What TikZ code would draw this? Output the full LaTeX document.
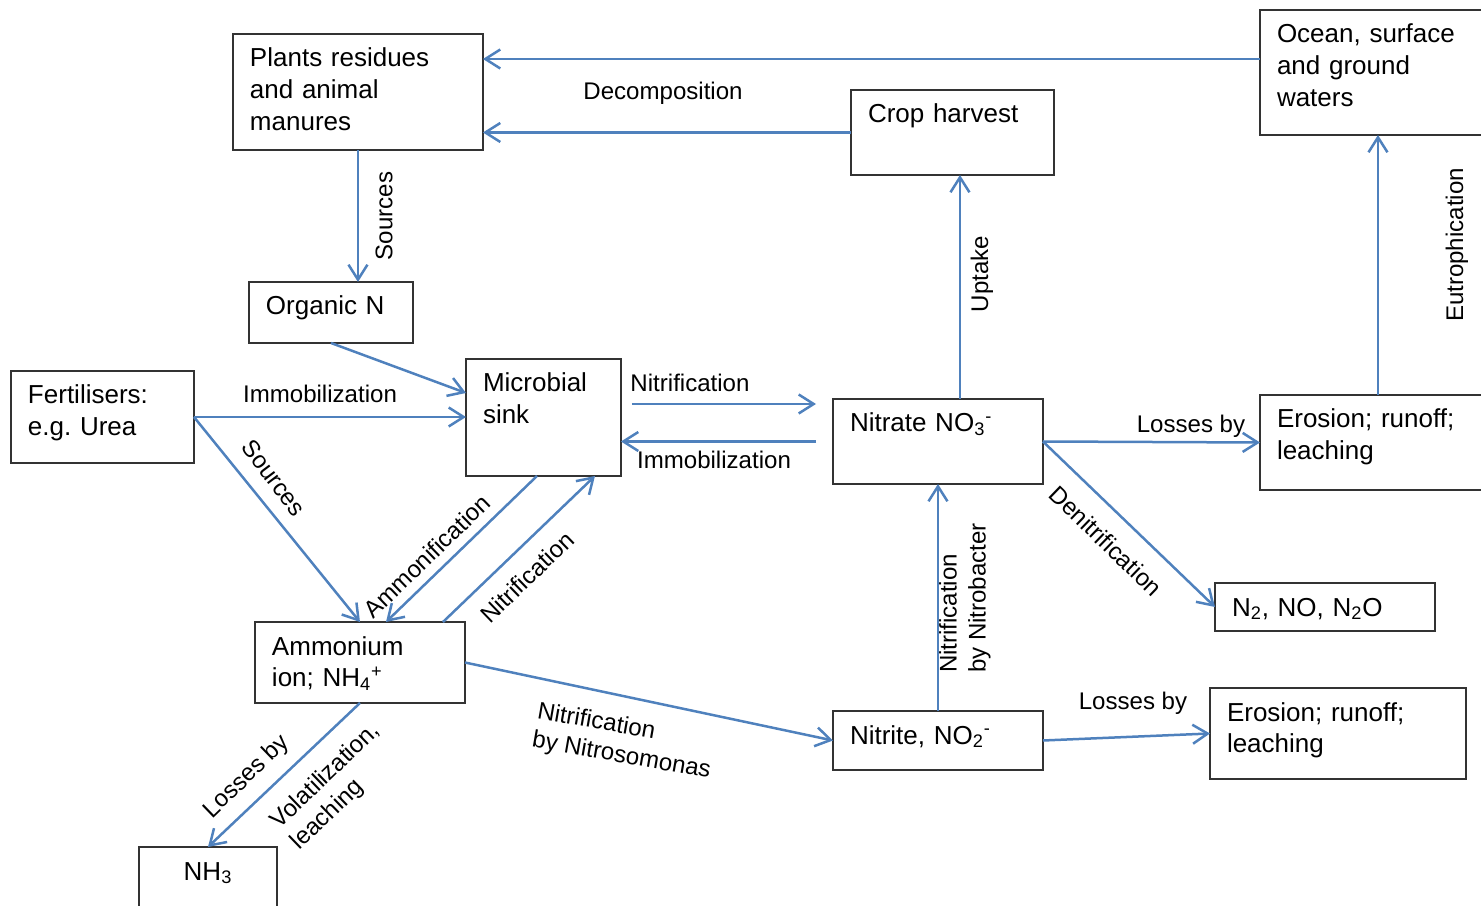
\documentclass[tikz,border=0pt]{standalone}
\usepackage{fontspec}
\setmainfont{Liberation Sans}
\usetikzlibrary{arrows.meta,calc}
\definecolor{flowblue}{RGB}{79,129,189}

\begin{document}
\begin{tikzpicture}[x=0.02cm, y=-0.02cm,
  nbox/.style={draw=black!80, line width=0.035cm, anchor=north west, align=left,
    font=\fontsize{14.8pt}{18.2pt}\selectfont, inner xsep=0.34cm, inner ysep=0.2cm,
    outer sep=0pt, text height=0.46cm},
  lbl/.style={font=\fontsize{13.7pt}{16.5pt}\selectfont, inner sep=0pt, align=left},
  flowarrow/.style={draw=flowblue, line width=0.05cm, -{Straight Barb[length=0.3cm, width=0.38cm]}}]
\useasboundingbox (0,0) rectangle (1481,906);

% pools
\node[nbox, text width=4.32cm, text depth=1.46cm] (plants) at (233,34) {Plants residues\\and animal\\manures};
\node[nbox, text width=3.38cm, text depth=0.84cm] (crop) at (851,90) {Crop harvest};
\node[nbox, text width=4.04cm, text depth=1.64cm] (ocean) at (1260,10) {Ocean, surface\\and ground\\waters};
\node[nbox, text width=2.6cm, text depth=0.36cm] (organic) at (249,282) {Organic N};
\node[nbox, text width=2.98cm, text depth=0.98cm] (fert) at (11,371) {Fertilisers:\\e.g.\ Urea};
\node[nbox, text width=2.42cm, text depth=1.48cm] (microbial) at (466,359) {Microbial\\sink};
\node[nbox, text width=3.52cm, text depth=0.84cm] (nitrate) at (833,399) {Nitrate NO\textsubscript{3}\textsuperscript{-}};
\node[nbox, text width=4.04cm, text depth=1.04cm] (erosionA) at (1260,395) {Erosion; runoff;\\leaching};
\node[nbox, text width=3.72cm, text depth=0.1cm] (gases) at (1215,583) {N\textsubscript{2}, NO, N\textsubscript{2}O};
\node[nbox, text width=3.52cm, text depth=0.76cm] (ammonium) at (255,622) {Ammonium\\ion; NH\textsubscript{4}\textsuperscript{+}};
\node[nbox, text width=2.08cm, text depth=0.54cm, align=center] (nh3) at (139,847) {NH\textsubscript{3}};
\node[nbox, text width=3.52cm, text depth=0.32cm] (nitrite) at (833,711) {Nitrite, NO\textsubscript{2}\textsuperscript{-}};
\node[nbox, text width=4.44cm, text depth=0.96cm] (erosionB) at (1210,688) {Erosion; runoff;\\leaching};

% flows
\draw[flowarrow] ([yshift=0.27cm]ocean.west) -- ([yshift=0.27cm]ocean.west -| plants.east);
\draw[flowarrow] (crop.west) -- (crop.west -| plants.east);
\draw[flowarrow] (plants.south) -- (plants.south |- organic.north);
\draw[flowarrow] (organic.south) -- ([yshift=0.49cm]microbial.west);
\draw[flowarrow] (fert.east) -- (fert.east -| microbial.west);
\draw[flowarrow] (fert.east) -- (ammonium.north);
\draw[flowarrow] ([xshift=-0.13cm]microbial.south) -- ([xshift=0.52cm]ammonium.north);
\draw[flowarrow] ([xshift=1.66cm]ammonium.north) -- ([xshift=1.03cm]microbial.south);
\draw[flowarrow, shorten <=0.22cm, shorten >=0.34cm] ([yshift=0.27cm]microbial.east) -- ([yshift=0.27cm]microbial.east -| nitrate.west);
\draw[flowarrow, shorten <=0.34cm] (nitrate.west) -- (nitrate.west -| microbial.east);
\draw[flowarrow] ([xshift=0.44cm]nitrate.north) -- ([xshift=0.44cm]nitrate.north |- crop.south);
\draw[flowarrow] (nitrate.east) -- (erosionA.west);
\draw[flowarrow] (nitrate.east) -- (gases.west);
\draw[flowarrow] (erosionA.north) -- (ocean.south);
\draw[flowarrow] (nitrite.north) -- (nitrate.south);
\draw[flowarrow] (ammonium.east) -- (nitrite.west);
\draw[flowarrow] (nitrite.east) -- (erosionB.west);
\draw[flowarrow] (ammonium.south) -- (nh3.north);

% process labels
\node[lbl, anchor=base] (lDecomp) at (663,99) {Decomposition};
\node[lbl, anchor=base] (lImmobA) at (320,402) {Immobilization};
\node[lbl, anchor=base] (lNitrA) at (690,391) {Nitrification};
\node[lbl, anchor=base] (lImmobB) at (714,468) {Immobilization};
\node[lbl, anchor=base] (lLossA) at (1191,432) {Losses by};
\node[lbl, anchor=base] (lLossB) at (1133,709) {Losses by};
\node[lbl, rotate=90] (lSrcA) at (384,216) {Sources};
\node[lbl, rotate=90] (lUptake) at (982,274) {Uptake};
\node[lbl, rotate=90] (lEutro) at (1457,245) {Eutrophication};
\node[lbl, rotate=90] (lNitrobacter) at (965,598) {Nitrification\\by Nitrobacter};
\node[lbl, rotate=-53] (lSrcB) at (274,478) {Sources};
\node[lbl, rotate=44] (lAmmon) at (427,556) {Ammonification};
\node[lbl, rotate=44] (lNitrB) at (527,577) {Nitrification};
\node[lbl, rotate=-44] (lDenit) at (1106,541) {Denitrification};
\node[lbl, rotate=-10] (lNitroso) at (624,742) {Nitrification\\by Nitrosomonas};
\node[lbl, rotate=44] (lLossC) at (247,777) {Losses by};
\node[lbl, rotate=44] (lVolat) at (336,787) {Volatilization,\\leaching};
\end{tikzpicture}
\end{document}
